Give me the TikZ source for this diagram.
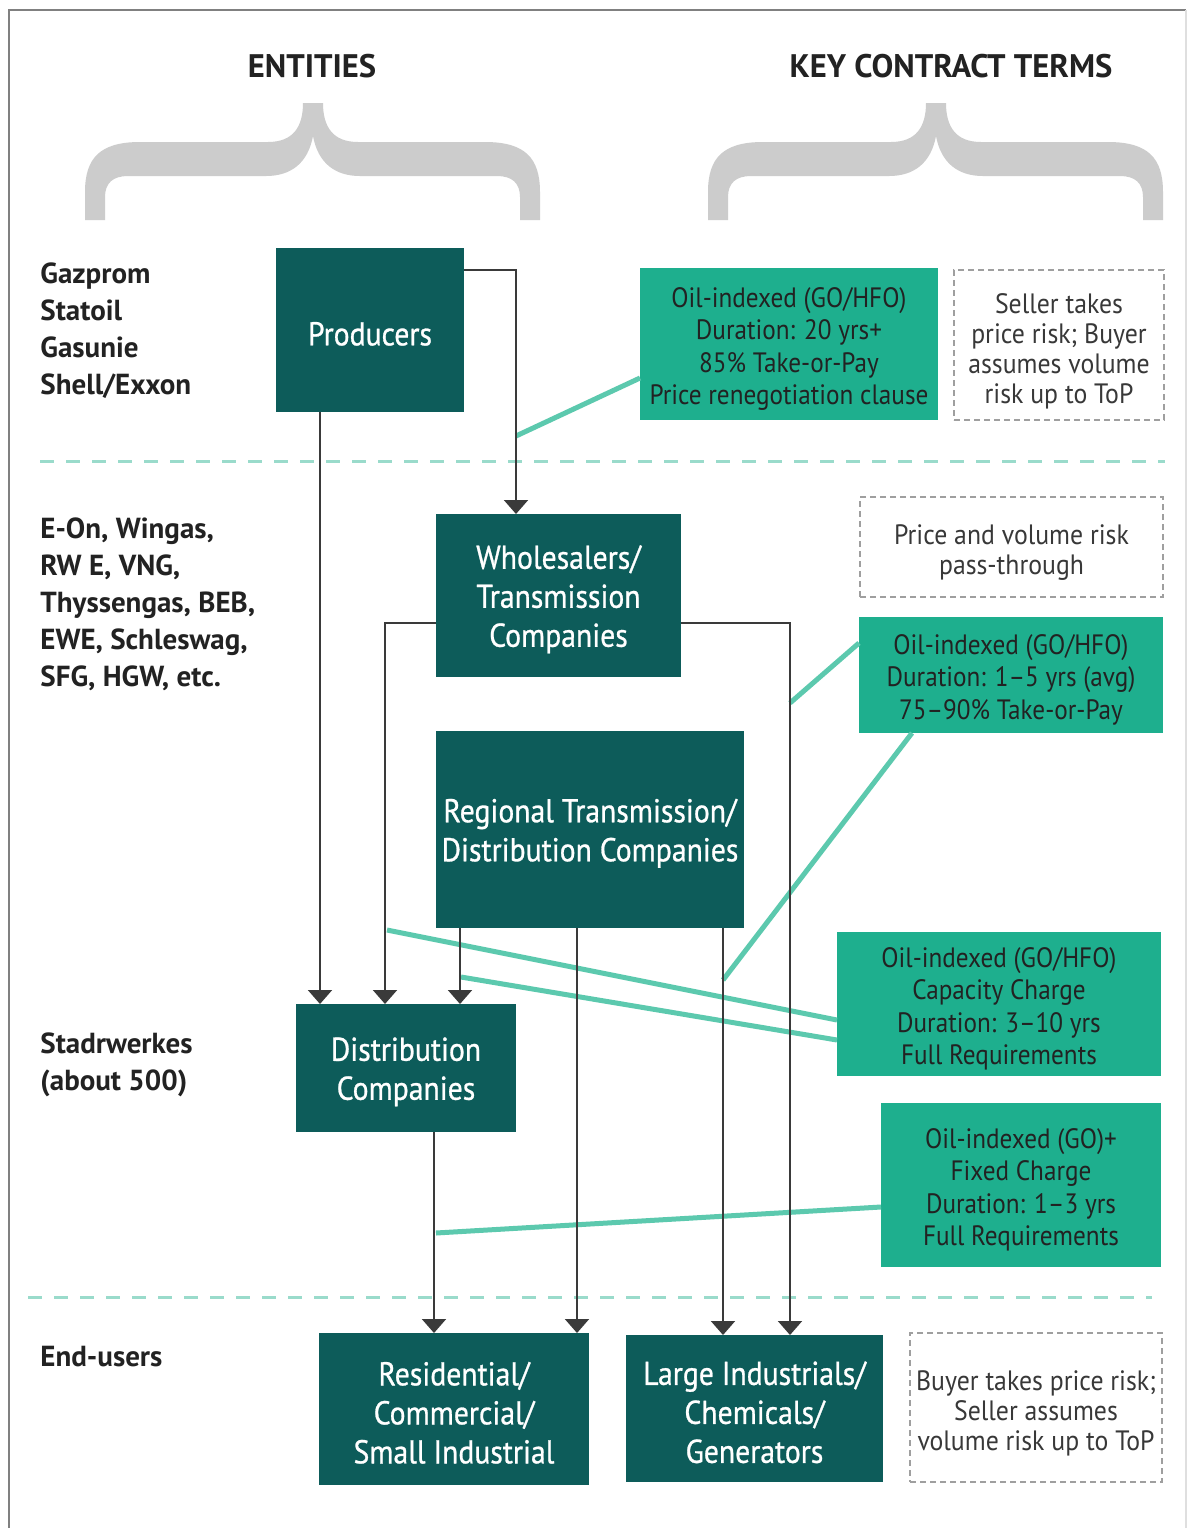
\documentclass[tikz,border=0pt]{standalone}
\usepackage{fontspec}
\setmainfont{PT Sans}
\newfontfamily\boxfont[FakeStretch=0.9,FakeBold=0.8]{PT Sans}
\newfontfamily\termfont[FakeStretch=0.9]{PT Sans}
\newfontfamily\riskfont[FakeStretch=0.92]{PT Sans}
\newfontfamily\labfont[FakeStretch=1.0]{PT Sans}
\usetikzlibrary{arrows.meta,calc}
\definecolor{darkteal}{HTML}{0D5C5A}
\definecolor{lightteal}{HTML}{1EAF8E}
\definecolor{tealline}{HTML}{5CC9AE}
\definecolor{sepline}{HTML}{9ADBCB}
\definecolor{bracegray}{HTML}{CCCCCC}
\definecolor{conncol}{HTML}{3A3A3A}
\definecolor{txt}{HTML}{222222}
\definecolor{framecol}{HTML}{808080}
\newcommand\mybracepath{(85,220) -- (85,192) .. controls (85,158) and (100,142) .. (140,142) -- (268,142) .. controls (293,142) and (303,127) .. (303,103) -- (323,103) .. controls (323,127) and (333,142) .. (358,142) -- (485,142) .. controls (525,142) and (540,158) .. (540,192) -- (540,220) -- (520,220) -- (520,197) .. controls (520,183) and (512,176) .. (497,176) -- (360,176) .. controls (335,176) and (318,163) .. (313,136) .. controls (308,163) and (291,176) .. (266,176) -- (128,176) .. controls (113,176) and (105,183) .. (105,197) -- (105,220) -- cycle}
\newcommand\mytopstrut[1]{\vrule width 0pt height \dimexpr\fontcharht\font`(+#1\relax}
\newcommand\sd{\mytopstrut{4pt}}
\newcommand\st{\mytopstrut{5pt}}
\newcommand\sr{\mytopstrut{6pt}}
\begin{document}
\begin{tikzpicture}[x=0.5pt,y=-0.5pt,
  darkbox/.style={fill=darkteal, text=white, align=center, inner sep=0pt, outer sep=0pt, font=\boxfont\fontsize{16.5}{19.5}\selectfont},
  termbox/.style={fill=lightteal, text=txt, align=center, inner sep=0pt, outer sep=0pt, font=\termfont\fontsize{14}{16.25}\selectfont},
  riskbox/.style={draw=gray!75, dash pattern=on 3pt off 2pt, line width=1pt, text=txt!90, align=center, inner sep=0pt, outer sep=0pt, font=\riskfont\fontsize{14}{15}\selectfont},
  lab/.style={anchor=north west, align=left, inner sep=0pt, font=\labfont\bfseries\fontsize{14.5}{18.5}\selectfont, text=txt},
  head/.style={inner sep=0pt, font=\labfont\bfseries\fontsize{16.3}{20}\selectfont, text=txt},
  conn/.style={draw=conncol, line width=1pt, -{Triangle[width=12pt,length=7pt]}},
  tline/.style={draw=tealline, line width=2.5pt},
  sepl/.style={draw=sepline, line width=1.5pt, dash pattern=on 7pt off 6pt},
  bracefill/.style={fill=bracegray}]
\useasboundingbox (0,0) rectangle (1188,1528);
\fill[white] (0,0) rectangle (1188,1528);
\draw[framecol, line width=1pt] (9,1540) -- (9,10) -- (1186,10);
\draw[gray!25, line width=1pt] (1186,10) -- (1186,1540);

% headers and braces
\node[head] (hent) at (312,66) {ENTITIES};
\node[head] (hkey) at (951,66) {KEY CONTRACT TERMS};
\fill[bracefill] \mybracepath;
\begin{scope}[shift={(623,0)}]
\fill[bracefill] \mybracepath;
\end{scope}

% separators
\coordinate (s1a) at (40,461); \coordinate (s1b) at (1165,461);
\coordinate (s2a) at (28,1297); \coordinate (s2b) at (1152,1297);
\draw[sepl] (s1a) -- (s1b);
\draw[sepl] (s2a) -- (s2b);

% left labels
\node[lab] (l1) at (40,262) {Gazprom\\Statoil\\Gasunie\\Shell/Exxon};
\node[lab] (l2) at (40,517) {E-On, Wingas,\\RW E, VNG,\\Thyssengas, BEB,\\EWE, Schleswag,\\SFG, HGW, etc.};
\node[lab] (l3) at (40,1032) {Stadrwerkes\\(about 500)};
\node[lab] (l4) at (40,1346) {End-users};

% entity boxes
\node[darkbox, minimum width=94pt, minimum height=82pt] (prod) at (370,330) {\sd Producers};
\node[darkbox, minimum width=122.5pt, minimum height=81.5pt] (whole) at (558.5,595.5) {\sd Wholesalers/\\Transmission\\Companies};
\node[darkbox, minimum width=154pt, minimum height=98.5pt] (reg) at (590,829.5) {\sd Regional Transmission/\\Distribution Companies};
\node[darkbox, minimum width=110pt, minimum height=64pt] (dist) at (406,1068) {\sd Distribution\\Companies};
\node[darkbox, minimum width=135pt, minimum height=76pt] (res) at (454,1409) {\sd Residential/\\Commercial/\\Small Industrial};
\node[darkbox, minimum width=128.5pt, minimum height=73.5pt] (large) at (754.5,1408.5) {\sd Large Industrials/\\Chemicals/\\Generators};

% contract term boxes
\node[termbox, minimum width=149pt, minimum height=76pt] (t1) at (789,344) {\st Oil-indexed (GO/HFO)\\Duration: 20 yrs+\\85\% Take-or-Pay\\Price renegotiation clause};
\node[termbox, minimum width=152pt, minimum height=58pt] (t2) at (1011,675) {\st Oil-indexed (GO/HFO)\\Duration: 1–5 yrs (avg)\\75–90\% Take-or-Pay};
\node[termbox, minimum width=162pt, minimum height=72pt] (t3) at (999,1004) {\st Oil-indexed (GO/HFO)\\Capacity Charge\\Duration: 3–10 yrs\\Full Requirements};
\node[termbox, minimum width=140pt, minimum height=82pt] (t4) at (1021,1185) {\st Oil-indexed (GO)+\\Fixed Charge\\Duration: 1–3 yrs\\Full Requirements};

% risk boxes
\node[riskbox, minimum width=105pt, minimum height=75pt] (d1) at (1059,345) {\sr Seller takes\\price risk; Buyer\\assumes volume\\risk up to ToP};
\node[riskbox, minimum width=151.5pt, minimum height=50pt] (d2) at (1011.5,547) {\sr Price and volume risk\\pass-through};
\node[riskbox, minimum width=126pt, minimum height=74.5pt] (d3) at (1036,1407.5) {\sr Buyer takes price risk;\\Seller assumes\\volume risk up to ToP};

% teal links to flows
\coordinate (ja) at (516,436);
\coordinate (jb) at (790,703);
\coordinate (jc) at (723,980);
\coordinate (jd) at (387,930);
\coordinate (je) at (461,977);
\coordinate (jf) at (436,1233);
\draw[tline] ($(t1.south west)+(0,-42)$) -- (ja);
\draw[tline] ($(t2.north west)+(0,26)$) -- (jb);
\draw[tline] ($(t2.south west)+(53,0)$) -- (jc);
\draw[tline] ($(t3.north west)+(0,88)$) -- (jd);
\draw[tline] ($(t3.north west)+(0,108)$) -- (je);
\draw[tline] ($(t4.north west)+(0,104)$) -- (jf);

% flow connectors
\draw[conn] ($(prod.north east)+(0,22)$) -| ($(whole.north west)+(80,0)$);
\draw[conn] ($(prod.south west)+(44,0)$) -- ($(dist.north west)+(24,0)$);
\draw[conn] ($(whole.north west)+(0,109)$) -| ($(dist.north west)+(89,0)$);
\draw[conn] ($(reg.south west)+(24,0)$) -- ($(dist.north west)+(164,0)$);
\draw[conn] ($(whole.north east)+(0,109)$) -| ($(large.north west)+(164,0)$);
\draw[conn] ($(reg.south west)+(141,0)$) -- ($(res.north west)+(258,0)$);
\draw[conn] ($(reg.south west)+(287,0)$) -- ($(large.north west)+(97,0)$);
\draw[conn] ($(dist.south west)+(138,0)$) -- ($(res.north west)+(115,0)$);
\end{tikzpicture}
\end{document}
